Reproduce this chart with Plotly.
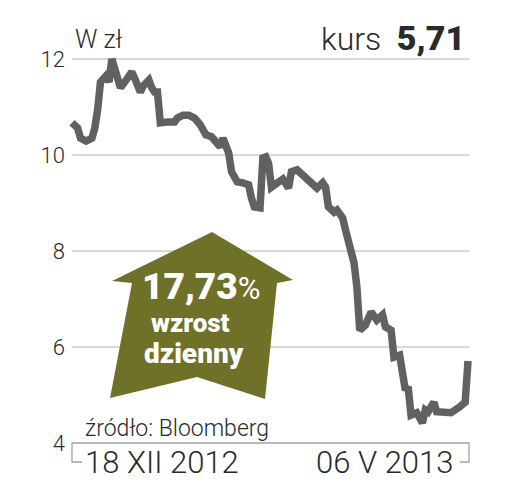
import pandas as pd
import plotly.graph_objects as go

# ---- data ----
start_date = "2012-12-18"
day_offsets = [0,2,3,5,7,8,9,10,12,13,14,16,17,19,21,22,24,25,27,28,29,30,31,34,36,37,39,41,43,45,
               47,49,51,52,53,55,56,57,58,60,62,63,64,66,67,68,69,70,71,74,76,77,79,81,83,86,88,89,90,92,
               93,95,96,98,99,100,101,103,105,107,109,110,112,113,115,117,118,119,121,123,
               124,125,127,128,131,133,136,138,139]
prices = [10.67,10.56,10.35,10.29,10.35,10.56,10.94,11.52,11.65,11.52,12.0,11.67,11.40,11.56,11.73,11.60,11.31,11.44,11.56,11.40,
          11.31,11.31,10.67,10.69,10.69,10.77,10.83,10.83,10.77,10.63,10.42,10.38,10.25,10.17,10.35,10.04,9.65,9.52,9.44,9.42,
          9.38,9.10,8.92,8.90,9.94,9.96,9.83,9.33,9.38,9.50,9.31,9.65,9.69,9.58,9.48,9.31,9.42,9.33,8.92,8.81,
          8.85,8.69,8.44,8.02,7.75,7.25,6.35,6.46,6.73,6.56,6.67,6.42,6.35,5.79,5.83,5.10,5.17,4.58,4.63,4.42,
          4.69,4.65,4.85,4.65,4.65,4.63,4.75,4.85,5.71]
y_ticks = [4, 6, 8, 10, 12]
x_labels = ["18 XII 2012", "06 V 2013"]
unit_label = "W zł"
last_price_label = "5,71"
change_label = "17,73"
change_text = ["wzrost", "dzienny"]
source_label = "źródło: Bloomberg"

t0 = pd.Timestamp(start_date)
dates = [t0 + pd.Timedelta(days=d) for d in day_offsets]

# ---- geometry helpers (pixel -> paper) ----
W, H = 509, 496
ML, MR, MT, MB = 66, 35, 49, 43
PW, PH = W - ML - MR, H - MT - MB
def px(x):
    return (x - ML) / PW
def py(y):
    return (H - MB - y) / PH

FONT = "Roboto"
LINE_C = "#616161"
OLIVE = "#707129"

fig = go.Figure()
fig.add_trace(go.Scatter(x=dates, y=prices, mode="lines",
                         line=dict(color=LINE_C, width=7.5, shape="linear"),
                         hoverinfo="skip", showlegend=False))

shapes = []
# gridlines
for v in y_ticks[1:]:
    shapes.append(dict(type="line", xref="x", yref="y", x0=dates[0], x1=dates[-1] + pd.Timedelta(hours=12),
                       y0=v, y1=v, line=dict(color="#cdcdcd", width=1.3), layer="below"))
# bottom bracket
yb = py(443)
path = (f"M {px(82)},{py(462)} L {px(72)},{py(462)} L {px(72)},{yb} "
        f"L {px(469)},{yb} L {px(469)},{py(462)} L {px(460)},{py(462)}")
shapes.append(dict(type="path", xref="paper", yref="paper", path=path,
                   line=dict(color="#a3a3a3", width=1.3)))
# arrow
arrow_px = [(212, 232), (293, 280), (277, 283), (265, 399), (197, 377), (110, 398), (132, 283), (112, 281)]
ap = "M " + " L ".join(f"{px(a)},{py(b)}" for a, b in arrow_px) + " Z"
shapes.append(dict(type="path", xref="paper", yref="paper", path=ap,
                   fillcolor=OLIVE, line=dict(width=0), layer="above"))

ann = []
def A(text, x, y, xa, size, color="#2a2a2a", weight=300, ya="middle"):
    ann.append(dict(text=text, xref="paper", yref="paper", x=px(x), y=py(y), xanchor=xa, yanchor=ya,
                    showarrow=False, font=dict(family=FONT, size=size, color=color, weight=weight)))

A(unit_label, 73, 40, "left", 25)
A(f"kurs&nbsp;&nbsp;<span style='font-size:34px;font-weight:900'>{last_price_label}</span>", 467, 38, "right", 32, weight=300)
A(source_label, 83, 428, "left", 23)
A(x_labels[0], 83, 462, "left", 31)
A(x_labels[1], 455, 462, "right", 31)
A(f"<span style='font-weight:900'>{change_label}</span><span style='font-size:31px;font-weight:400'>%</span>",
  201, 286, "center", 37, color="white", weight=900)
A(change_text[0], 190, 323, "center", 26, color="white", weight=900)
A(change_text[1], 194, 353, "center", 28, color="white", weight=900)

fig.update_layout(
    width=W, height=H, margin=dict(l=ML, r=MR, t=MT, b=MB),
    paper_bgcolor="white", plot_bgcolor="white",
    xaxis=dict(range=[t0 - pd.Timedelta(days=2.1), t0 + pd.Timedelta(days=141.1)],
               visible=False, showgrid=False, zeroline=False),
    yaxis=dict(range=[4 - 10/48, 12 + 10/48], tickvals=y_ticks, ticktext=[str(v) for v in y_ticks],
               showgrid=False, zeroline=False, showline=False, ticks="",
               tickfont=dict(family=FONT, size=22, color="#2a2a2a", weight=300)),
    shapes=shapes, annotations=ann, showlegend=False,
)
fig.write_html("out.html", config={"displayModeBar": False},
               post_script="document.body.style.margin='0px';document.body.style.overflow='hidden';")
